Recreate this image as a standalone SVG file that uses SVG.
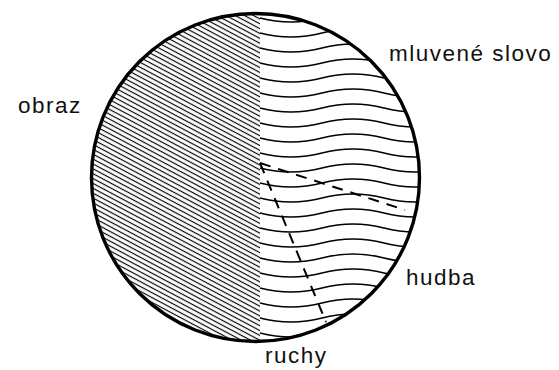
<svg xmlns="http://www.w3.org/2000/svg" width="559" height="370" viewBox="0 0 559 370">
  <style>
    .label { font-family: "Liberation Sans", Arial, sans-serif; font-size: 22.5px; letter-spacing: 1.5px; fill: #111; }
    .wave { fill: none; stroke: #000; stroke-width: 1.6; }
    .dash { fill: none; stroke: #000; stroke-width: 2; stroke-dasharray: 11 8; }
    .rim { fill: none; stroke: #000; stroke-width: 3.4; }
  </style>
  <defs>
    <clipPath id="disc">
      <circle cx="255.5" cy="177.5" r="164"/>
    </clipPath>
    <pattern id="hatch" width="12" height="4.3" patternUnits="userSpaceOnUse" patternTransform="rotate(28)">
      <rect x="0" y="1.6" width="12" height="1.15" fill="#000"/>
    </pattern>
  </defs>
  <rect width="559" height="370" fill="#fff"/>

  <g id="obraz-region" clip-path="url(#disc)">
    <rect x="88" y="10" width="172" height="340" fill="url(#hatch)"/>
  </g>

  <g id="slovo-region" clip-path="url(#disc)">
    <path class="wave" d="M260,18 q31,8 62,0 t62,0 t62,0 t62,0"/>
    <path class="wave" d="M260,33 q31,8 62,0 t62,0 t62,0 t62,0"/>
    <path class="wave" d="M260,48 q31,8 62,0 t62,0 t62,0 t62,0"/>
    <path class="wave" d="M260,63 q31,8 62,0 t62,0 t62,0 t62,0"/>
    <path class="wave" d="M260,78 q31,8 62,0 t62,0 t62,0 t62,0"/>
    <path class="wave" d="M260,93 q31,8 62,0 t62,0 t62,0 t62,0"/>
    <path class="wave" d="M260,108 q31,8 62,0 t62,0 t62,0 t62,0"/>
    <path class="wave" d="M260,123 q31,8 62,0 t62,0 t62,0 t62,0"/>
    <path class="wave" d="M260,138 q31,8 62,0 t62,0 t62,0 t62,0"/>
    <path class="wave" d="M260,153 q31,8 62,0 t62,0 t62,0 t62,0"/>
    <path class="wave" d="M260,168 q31,8 62,0 t62,0 t62,0 t62,0"/>
    <path class="wave" d="M260,183 q31,8 62,0 t62,0 t62,0 t62,0"/>
    <path class="wave" d="M260,198 q31,8 62,0 t62,0 t62,0 t62,0"/>
    <path class="wave" d="M260,213 q31,8 62,0 t62,0 t62,0 t62,0"/>
    <path class="wave" d="M260,228 q31,8 62,0 t62,0 t62,0 t62,0"/>
    <path class="wave" d="M260,243 q31,8 62,0 t62,0 t62,0 t62,0"/>
    <path class="wave" d="M260,258 q31,8 62,0 t62,0 t62,0 t62,0"/>
    <path class="wave" d="M260,273 q31,8 62,0 t62,0 t62,0 t62,0"/>
    <path class="wave" d="M260,288 q31,8 62,0 t62,0 t62,0 t62,0"/>
    <path class="wave" d="M260,303 q31,8 62,0 t62,0 t62,0 t62,0"/>
    <path class="wave" d="M260,318 q31,8 62,0 t62,0 t62,0 t62,0"/>
    <path class="wave" d="M260,333 q31,8 62,0 t62,0 t62,0 t62,0"/>
  </g>

  <g id="connectors">
    <path class="dash" d="M260,163 L405,210"/>
    <path class="dash" d="M260,163 L326,322"/>
  </g>

  <g id="circle-outline">
    <circle class="rim" cx="255.5" cy="177.5" r="164"/>
  </g>

  <g id="label-slovo"><text class="label" x="389" y="61">mluvené slovo</text></g>
  <g id="label-obraz"><text class="label" x="18" y="113">obraz</text></g>
  <g id="label-hudba"><text class="label" x="406" y="285">hudba</text></g>
  <g id="label-ruchy"><text class="label" x="265" y="363">ruchy</text></g>
</svg>
